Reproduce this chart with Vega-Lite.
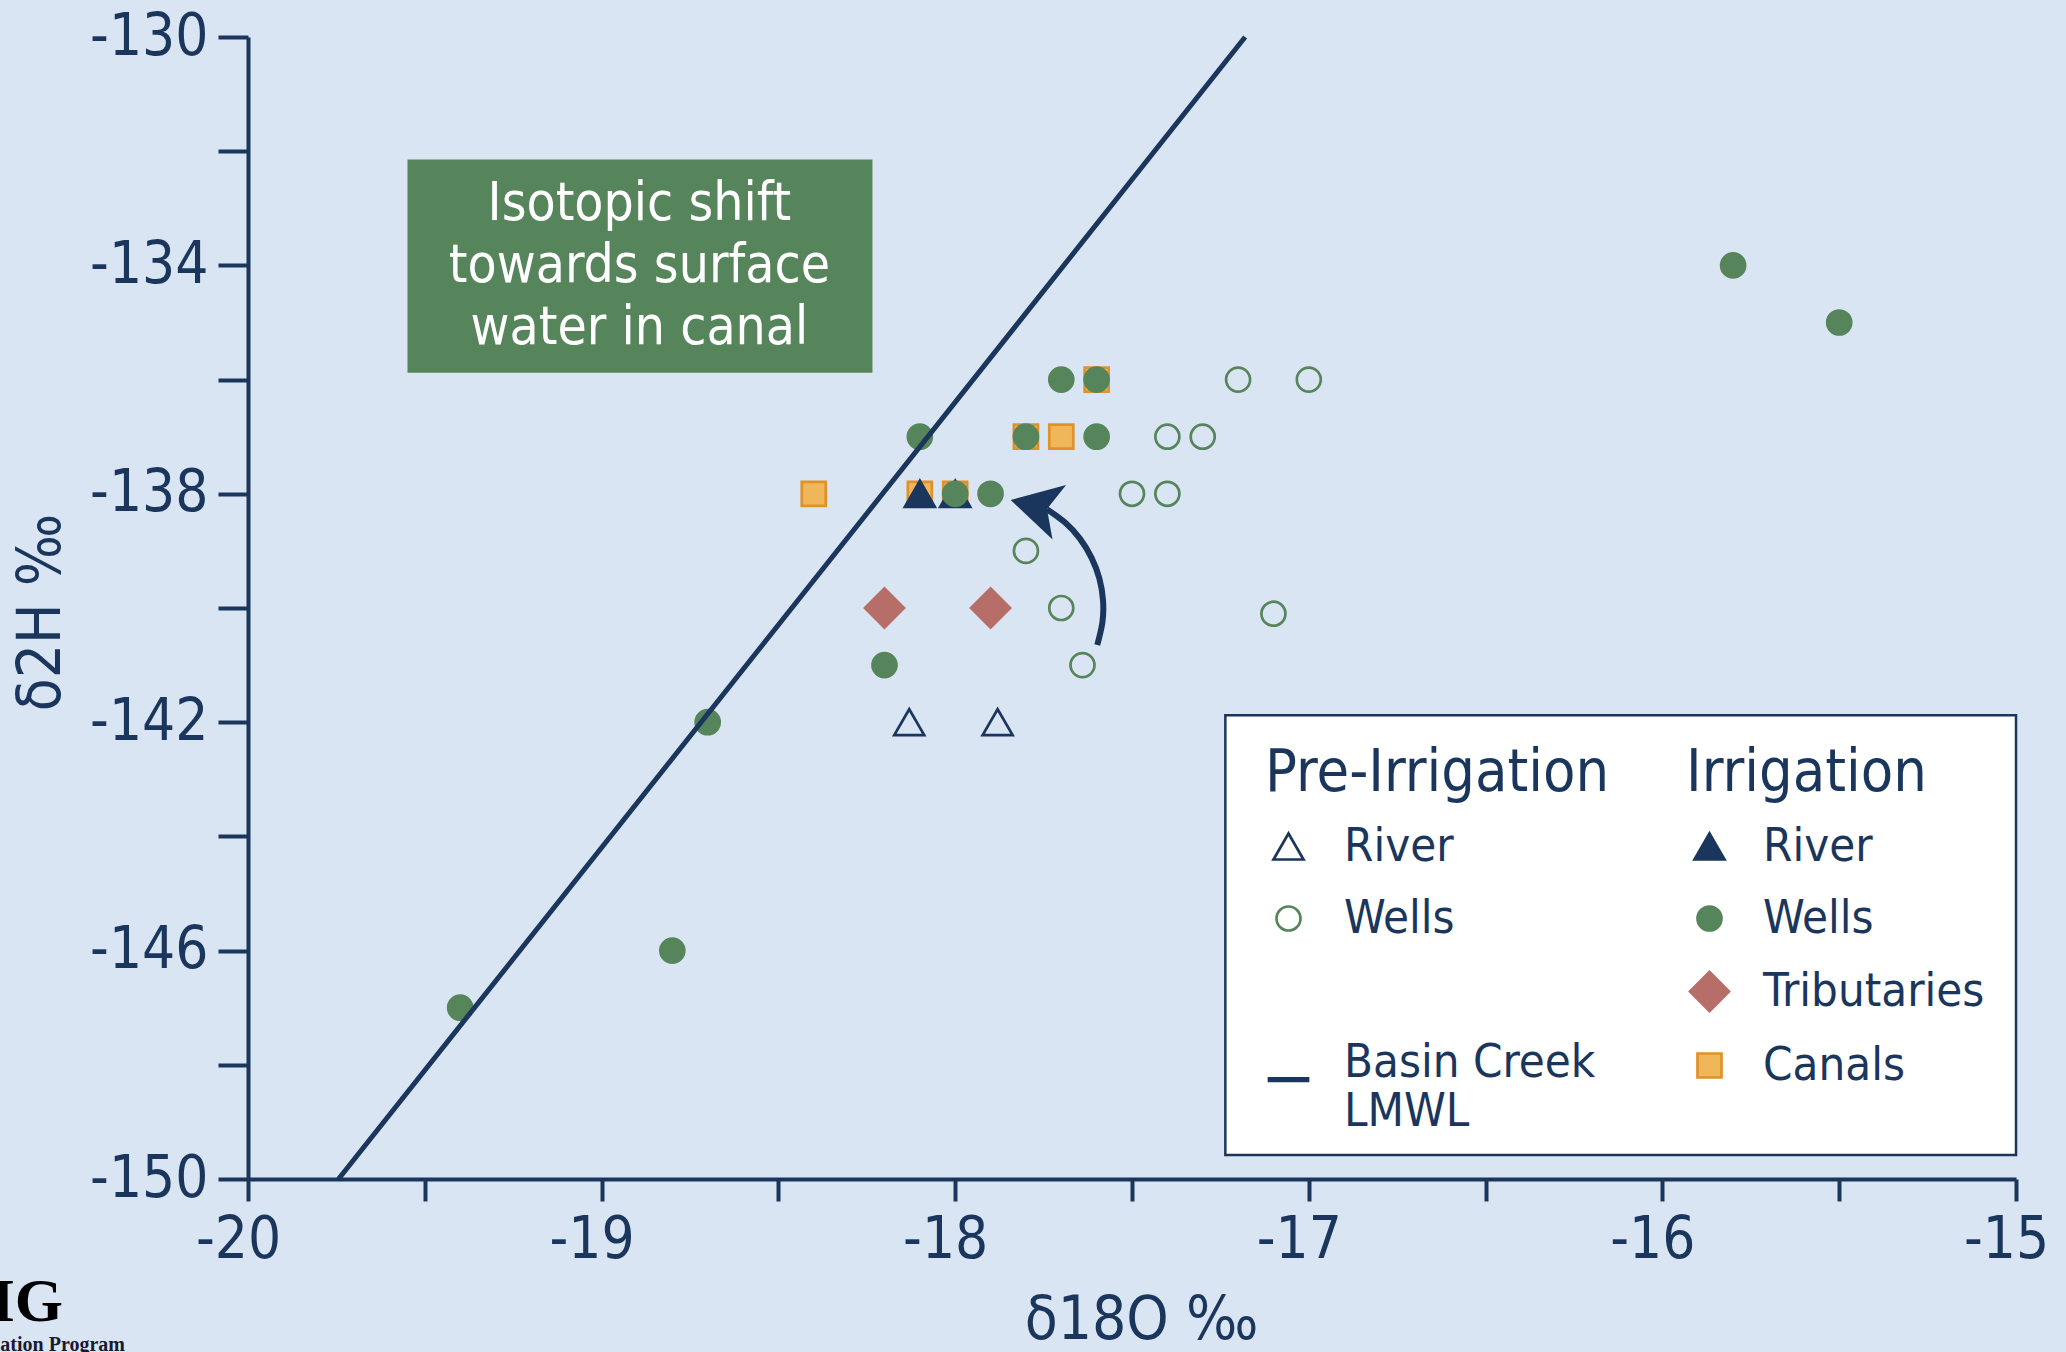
{
  "$schema": "https://vega.github.io/schema/vega-lite/v6.json",
  "width": 1768,
  "height": 1142,
  "autosize": {"type": "none"},
  "padding": {"left": 248, "top": 37, "right": 50, "bottom": 173},
  "background": "#dae5f4",
  "config": {
    "view": {"stroke": null},
    "font": "DejaVu Sans Condensed, DejaVu Sans",
    "axis": {
      "domainColor": "#1b365d", "domainWidth": 4,
      "tickColor": "#1b365d", "tickWidth": 4,
      "labelColor": "#1b365d", "titleColor": "#1b365d",
      "labelFont": "DejaVu Sans Condensed, DejaVu Sans",
      "titleFont": "DejaVu Sans Condensed, DejaVu Sans",
      "labelFontSize": 58, "titleFontSize": 60, "titleFontWeight": "normal",
      "grid": false, "labelFlush": false, "labelOverlap": false
    },
    "legend": {
      "orient": "none",
      "rowPadding": 24,
      "labelFont": "DejaVu Sans Condensed, DejaVu Sans",
      "labelFontSize": 47, "labelColor": "#1b365d", "labelLimit": 800,
      "titleFont": "DejaVu Sans Condensed, DejaVu Sans",
      "titleFontSize": 59, "titleColor": "#1b365d", "titleFontWeight": "normal",
      "titlePadding": 20, "titleLimit": 800,
      "symbolStrokeWidth": 2.7, "symbolSize": 900,
      "padding": 0
    }
  },
  "resolve": {"scale": {"shape": "independent", "fill": "independent", "stroke": "independent"}},
  "datasets": {
    "irr": [
      {"cat": "Canals", "x": -18.4, "y": -138},
      {"cat": "Canals", "x": -18.1, "y": -138},
      {"cat": "Canals", "x": -18.0, "y": -138},
      {"cat": "Canals", "x": -17.8, "y": -137},
      {"cat": "Canals", "x": -17.7, "y": -137},
      {"cat": "Canals", "x": -17.6, "y": -136},
      {"cat": "Tributaries", "x": -18.2, "y": -140},
      {"cat": "Tributaries", "x": -17.9, "y": -140},
      {"cat": "irrRiver", "x": -18.1, "y": -138},
      {"cat": "irrRiver", "x": -18.0, "y": -138},
      {"cat": "irrWells", "x": -15.8, "y": -134},
      {"cat": "irrWells", "x": -15.5, "y": -135},
      {"cat": "irrWells", "x": -17.7, "y": -136},
      {"cat": "irrWells", "x": -17.6, "y": -136},
      {"cat": "irrWells", "x": -18.1, "y": -137},
      {"cat": "irrWells", "x": -17.8, "y": -137},
      {"cat": "irrWells", "x": -17.6, "y": -137},
      {"cat": "irrWells", "x": -18.0, "y": -138},
      {"cat": "irrWells", "x": -17.9, "y": -138},
      {"cat": "irrWells", "x": -18.2, "y": -141},
      {"cat": "irrWells", "x": -18.7, "y": -142},
      {"cat": "irrWells", "x": -18.8, "y": -146},
      {"cat": "irrWells", "x": -19.4, "y": -147}
    ],
    "pre": [
      {"cat": "preRiver", "x": -18.13, "y": -142},
      {"cat": "preRiver", "x": -17.88, "y": -142},
      {"cat": "preWells", "x": -17.2, "y": -136},
      {"cat": "preWells", "x": -17.0, "y": -136},
      {"cat": "preWells", "x": -17.4, "y": -137},
      {"cat": "preWells", "x": -17.3, "y": -137},
      {"cat": "preWells", "x": -17.5, "y": -138},
      {"cat": "preWells", "x": -17.4, "y": -138},
      {"cat": "preWells", "x": -17.8, "y": -139},
      {"cat": "preWells", "x": -17.7, "y": -140},
      {"cat": "preWells", "x": -17.1, "y": -140.1},
      {"cat": "preWells", "x": -17.64, "y": -141}
    ],
    "lmwl": [
      {"x": -19.744, "y": -150},
      {"x": -17.18, "y": -130}
    ],
    "arrow": [
      {"i": 0, "x": -17.5982, "y": -140.648},
      {"i": 1, "x": -17.5837, "y": -140.252},
      {"i": 2, "x": -17.582, "y": -139.865},
      {"i": 3, "x": -17.5922, "y": -139.483},
      {"i": 4, "x": -17.6143, "y": -139.121},
      {"i": 5, "x": -17.6468, "y": -138.79},
      {"i": 6, "x": -17.6892, "y": -138.504},
      {"i": 7, "x": -17.7407, "y": -138.27}
    ],
    "arrowhead": [
      {"x": -17.7675, "y": -138.226}
    ],
    "box": [
      {"x1": -19.549, "x2": -18.234, "y1": -132.145, "y2": -135.88, "xc": -18.893, "yc": -132.93, "label": "Isotopic shift\ntowards surface\nwater in canal"}
    ],
    "legendbox": [
      {"x1": -17.236, "x2": -15.0, "y1": -141.88, "y2": -149.58}
    ],
    "logo1": [{"x": -20.523, "y": -152.15, "t": "IG"}],
    "logo2": [{"x": -20.348, "y": -152.91, "t": "ation Program"}]
  },
  "layer": [
    {
      "data": {"name": "box"},
      "mark": {"type": "rect", "fill": "#57855b"},
      "encoding": {
        "x": {"field": "x1", "type": "quantitative", "title": "δ18O ‰", "scale": {"domain": [-20, -15], "nice": false, "zero": false}},
        "x2": {"field": "x2"},
        "y": {"field": "y1", "type": "quantitative", "title": "δ2H ‰", "scale": {"domain": [-150, -130], "nice": false, "zero": false}},
        "y2": {"field": "y2"}
      }
    },
    {
      "data": {"name": "box"},
      "mark": {"type": "text", "color": "white", "fontSize": 53, "lineHeight": 62, "lineBreak": "\n", "align": "center", "baseline": "middle", "font": "DejaVu Sans Condensed, DejaVu Sans"},
      "encoding": {
        "x": {"field": "xc", "type": "quantitative", "title": "δ18O ‰"},
        "y": {"field": "yc", "type": "quantitative", "title": "δ2H ‰"},
        "text": {"field": "label"}
      }
    },
    {
      "data": {"name": "legendbox"},
      "mark": {"type": "rect", "fill": "white", "stroke": "#1b365d", "strokeWidth": 2.5},
      "encoding": {
        "x": {"field": "x1", "type": "quantitative", "title": "δ18O ‰"},
        "x2": {"field": "x2"},
        "y": {"field": "y1", "type": "quantitative", "title": "δ2H ‰"},
        "y2": {"field": "y2"}
      }
    },
    {
      "data": {"name": "irr"},
      "mark": {"type": "point", "opacity": 1, "strokeWidth": 2.7, "size": 900},
      "encoding": {
        "x": {
          "field": "x", "type": "quantitative", "title": "δ18O ‰",
          "scale": {"domain": [-20, -15], "nice": false, "zero": false},
          "axis": {
            "values": [-20, -19.5, -19, -18.5, -18, -17.5, -17, -16.5, -16, -15.5, -15],
            "labelExpr": "datum.value % 1 == 0 ? '' + datum.value : ''",
            "tickSize": 22, "labelPadding": 10, "labelOffset": -10, "titlePadding": 22, "titleX": 893
          }
        },
        "y": {
          "field": "y", "type": "quantitative", "title": "δ2H ‰",
          "scale": {"domain": [-150, -130], "nice": false, "zero": false},
          "axis": {
            "values": [-150, -148, -146, -144, -142, -140, -138, -136, -134, -132, -130],
            "labelExpr": "datum.value % 4 == 0 ? '' : '' + datum.value",
            "tickSize": 30, "labelPadding": 10, "titlePadding": 17, "titleY": 575
          }
        },
        "shape": {
          "field": "cat", "type": "nominal",
          "scale": {
            "domain": ["irrRiver", "irrWells", "Tributaries", "Canals"],
            "range": ["triangle-up", "M0.8,0A0.8,0.8,0,1,1,-0.8,0A0.8,0.8,0,1,1,0.8,0Z", "M-1.3,0L0,-1.3L1.3,0L0,1.3Z", "M-0.8,-0.8H0.8V0.8H-0.8Z"]
          },
          "legend": {
            "title": "Irrigation", "legendX": 1438, "legendY": 707, "labelOffset": 30,
            "labelExpr": "datum.value == 'irrRiver' ? 'River' : datum.value == 'irrWells' ? 'Wells' : datum.value"
          }
        },
        "fill": {
          "field": "cat", "type": "nominal",
          "scale": {
            "domain": ["irrRiver", "irrWells", "Tributaries", "Canals"],
            "range": ["#1b365d", "#57855b", "#b86e68", "#f0b75a"]
          },
          "legend": {
            "title": "Irrigation", "legendX": 1438, "legendY": 707, "labelOffset": 30,
            "labelExpr": "datum.value == 'irrRiver' ? 'River' : datum.value == 'irrWells' ? 'Wells' : datum.value"
          }
        },
        "stroke": {
          "field": "cat", "type": "nominal",
          "scale": {
            "domain": ["irrRiver", "irrWells", "Tributaries", "Canals"],
            "range": ["#1b365d", "#57855b", "#b86e68", "#e0922a"]
          },
          "legend": {
            "title": "Irrigation", "legendX": 1438, "legendY": 707, "labelOffset": 30,
            "labelExpr": "datum.value == 'irrRiver' ? 'River' : datum.value == 'irrWells' ? 'Wells' : datum.value"
          }
        }
      }
    },
    {
      "data": {"name": "pre"},
      "mark": {"type": "point", "opacity": 1, "strokeWidth": 2.7, "size": 900},
      "encoding": {
        "x": {"field": "x", "type": "quantitative", "title": "δ18O ‰"},
        "y": {"field": "y", "type": "quantitative", "title": "δ2H ‰"},
        "shape": {
          "field": "cat", "type": "nominal",
          "scale": {
            "domain": ["preRiver", "preWells", "preBlank", "preLMWL"],
            "range": ["triangle-up", "M0.8,0A0.8,0.8,0,1,1,-0.8,0A0.8,0.8,0,1,1,0.8,0Z", "M0,0L0.01,0Z", "M-1.3,1.05H1.3V1.22H-1.3Z"]
          },
          "legend": {
            "title": "Pre-Irrigation", "legendX": 1017, "legendY": 707, "labelOffset": 32,
            "labelExpr": "datum.value == 'preRiver' ? 'River' : datum.value == 'preWells' ? 'Wells' : datum.value == 'preBlank' ? '' : ['Basin Creek', 'LMWL']"
          }
        },
        "fill": {
          "field": "cat", "type": "nominal",
          "scale": {
            "domain": ["preRiver", "preWells", "preBlank", "preLMWL"],
            "range": ["transparent", "transparent", "transparent", "#1b365d"]
          },
          "legend": {
            "title": "Pre-Irrigation", "legendX": 1017, "legendY": 707, "labelOffset": 32,
            "labelExpr": "datum.value == 'preRiver' ? 'River' : datum.value == 'preWells' ? 'Wells' : datum.value == 'preBlank' ? '' : ['Basin Creek', 'LMWL']"
          }
        },
        "stroke": {
          "field": "cat", "type": "nominal",
          "scale": {
            "domain": ["preRiver", "preWells", "preBlank", "preLMWL"],
            "range": ["#1b365d", "#57855b", "transparent", "#1b365d"]
          },
          "legend": {
            "title": "Pre-Irrigation", "legendX": 1017, "legendY": 707, "labelOffset": 32,
            "labelExpr": "datum.value == 'preRiver' ? 'River' : datum.value == 'preWells' ? 'Wells' : datum.value == 'preBlank' ? '' : ['Basin Creek', 'LMWL']"
          }
        }
      }
    },
    {
      "data": {"name": "lmwl"},
      "mark": {"type": "line", "stroke": "#1b365d", "strokeWidth": 5},
      "encoding": {
        "x": {"field": "x", "type": "quantitative", "title": "δ18O ‰"},
        "y": {"field": "y", "type": "quantitative", "title": "δ2H ‰"}
      }
    },
    {
      "data": {"name": "arrow"},
      "mark": {"type": "line", "stroke": "#1b365d", "strokeWidth": 6, "interpolate": "natural"},
      "encoding": {
        "x": {"field": "x", "type": "quantitative", "title": "δ18O ‰"},
        "y": {"field": "y", "type": "quantitative", "title": "δ2H ‰"},
        "order": {"field": "i", "type": "quantitative"}
      }
    },
    {
      "data": {"name": "arrowhead"},
      "mark": {"type": "point", "shape": "M0,-1L1.02,0.82L0,0.36L-1.02,0.82Z", "filled": true, "fill": "#1b365d", "strokeWidth": 0, "opacity": 1, "size": 3025, "angle": 284},
      "encoding": {
        "x": {"field": "x", "type": "quantitative", "title": "δ18O ‰"},
        "y": {"field": "y", "type": "quantitative", "title": "δ2H ‰"}
      }
    },
    {
      "data": {"name": "logo1"},
      "mark": {"type": "text", "font": "Liberation Serif", "fontWeight": "bold", "fontSize": 62, "color": "#000000", "align": "right", "baseline": "middle"},
      "encoding": {
        "x": {"field": "x", "type": "quantitative", "title": "δ18O ‰"},
        "y": {"field": "y", "type": "quantitative", "title": "δ2H ‰"},
        "text": {"field": "t"}
      }
    },
    {
      "data": {"name": "logo2"},
      "mark": {"type": "text", "font": "Liberation Serif", "fontWeight": "bold", "fontSize": 20, "color": "#1a1a2e", "align": "right", "baseline": "middle"},
      "encoding": {
        "x": {"field": "x", "type": "quantitative", "title": "δ18O ‰"},
        "y": {"field": "y", "type": "quantitative", "title": "δ2H ‰"},
        "text": {"field": "t"}
      }
    }
  ]
}
